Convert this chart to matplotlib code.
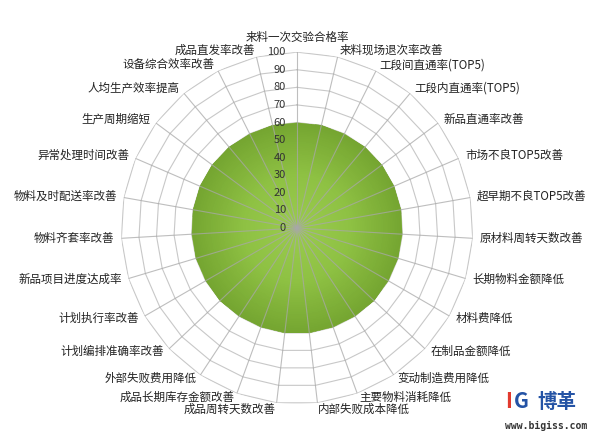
import numpy as np
import matplotlib
matplotlib.use("Agg")
import matplotlib.pyplot as plt
from matplotlib.colors import LinearSegmentedColormap

plt.rcParams['font.family'] = ['Noto Sans CJK SC', 'DejaVu Sans']

# 指标名称（顺时针，从正上方开始）
labels = ['来料一次交验合格率', '来料现场退次率改善', '工段间直通率(TOP5)', '工段内直通率(TOP5)',
          '新品直通率改善', '市场不良TOP5改善', '超早期不良TOP5改善', '原材料周转天数改善',
          '长期物料金额降低', '材料费降低', '在制品金额降低', '变动制造费用降低',
          '主要物料消耗降低', '内部失败成本降低', '成品周转天数改善', '成品长期库存金额改善',
          '外部失败费用降低', '计划编排准确率改善', '计划执行率改善', '新品项目进度达成率',
          '物料齐套率改善', '物料及时配送率改善', '异常处理时间改善', '生产周期缩短',
          '人均生产效率提高', '设备综合效率改善', '成品直发率改善']
values = [60] * len(labels)
r_ticks = [0, 10, 20, 30, 40, 50, 60, 70, 80, 90, 100]

n = len(labels)
theta = np.arange(n) * 2 * np.pi / n
theta_c = np.append(theta, theta[0])
vals_c = np.append(values, values[0])

fig = plt.figure(figsize=(6, 4.36), dpi=100)
ax = fig.add_axes([0.2017, 0.0734, 0.5867, 0.807], projection='polar')
ax.set_theta_zero_location('N')
ax.set_theta_direction(-1)
ax.set_ylim(0, 100)
ax.grid(False)
ax.spines['polar'].set_visible(False)
ax.set_xticks([])
ax.set_yticks([])

# 多边形网格
for r in r_ticks[1:]:
    ax.plot(theta_c, [r] * (n + 1), color='#C8C8C8', lw=0.8, zorder=1)

# 填充 + 渐变
poly = ax.fill(theta_c, vals_c, color='#86B83E', lw=0, zorder=2)[0]
tt, rr = np.meshgrid(np.linspace(0, 2 * np.pi, 181), np.linspace(0, 100, 101))
cmap = LinearSegmentedColormap.from_list('g', ['#9ACB4E', '#8EC143', '#74A430'])
mesh = ax.pcolormesh(tt, rr, rr[:-1, :-1] / 60.0, cmap=cmap, vmin=0, vmax=1,
                     shading='flat', zorder=2.5)
mesh.set_clip_path(poly)

# 辐射线
for t in theta:
    ax.plot([t, t], [0, 100], color='#A8A8A8', lw=0.8, alpha=0.75, zorder=3)

# 刻度值
for r in r_ticks:
    ax.annotate(str(r), (0, r), xytext=(-8, 0), textcoords='offset points',
                ha='right', va='center', fontsize=8, color='#333333', zorder=4)

# 类别标签
for t, lab in zip(theta, labels):
    s, c = np.sin(t), np.cos(t)
    ha = 'center' if abs(s) < 0.05 else ('left' if s > 0 else 'right')
    va = 'center'
    dx = 5 * s
    dy = 5 * c if c > 0 else 3 * c
    if abs(s) < 0.05:
        va, dy = 'bottom', 6
    elif c < -0.95:
        va, dy = 'top', 0
    ax.annotate(lab, (t, 100), xytext=(dx, dy), textcoords='offset points',
                ha=ha, va=va, fontsize=8.3, color='#222222')

# 水印
fig.text(0.842, 0.078, 'I', color='#E23A2E', fontsize=15, fontweight='bold', ha='left', va='center')
fig.text(0.856, 0.078, 'G', color='#2453A5', fontsize=15, fontweight='bold', ha='left', va='center')
fig.text(0.895, 0.078, '博革', color='#2453A5', fontsize=14, fontweight='bold', ha='left', va='center')
fig.text(0.91, 0.022, 'www.bigiss.com', color='#333333', fontsize=7, family='DejaVu Sans Mono',
         fontweight='bold', ha='center', va='center')

fig.savefig('out.png', dpi=100, facecolor='white')
